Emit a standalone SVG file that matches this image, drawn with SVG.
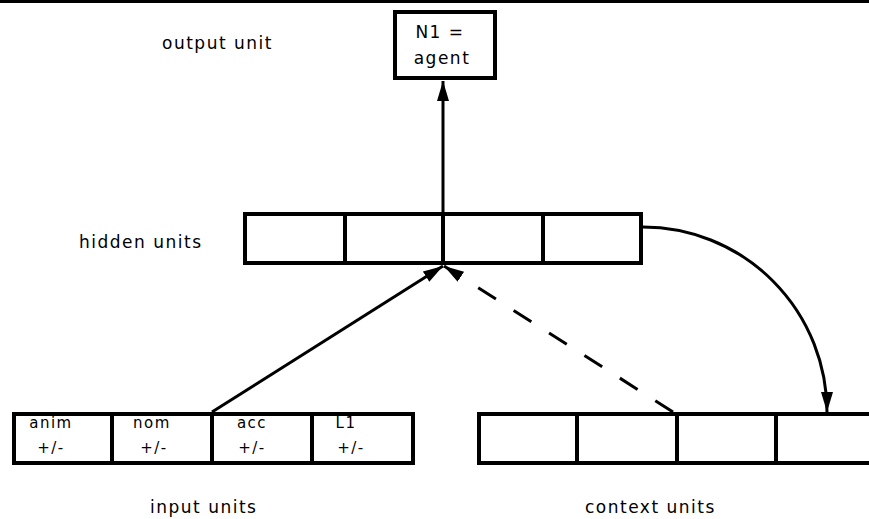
<svg xmlns="http://www.w3.org/2000/svg" width="869" height="519" viewBox="0 0 869 519">
<style>
.box{fill:#fff;stroke:#000;stroke-width:4}
.div{stroke:#000;stroke-width:4}
.lbl{font-family:"DejaVu Sans",sans-serif;font-size:17px;fill:#000;letter-spacing:1.5px}
.cell{font-family:"DejaVu Sans",sans-serif;font-size:15px;fill:#000;letter-spacing:1.5px;text-anchor:middle}
.con{fill:none;stroke:#000;stroke-width:3}
</style>
<defs>
<marker id="ah" markerUnits="userSpaceOnUse" markerWidth="22" markerHeight="14" refX="20" refY="6" orient="auto">
<path d="M0,0 L20,6 L0,12 z" fill="#000"/>
</marker>
</defs>
<rect x="0" y="0" width="869" height="3" fill="#000"/>
<text class="lbl" x="162" y="49">output unit</text>
<text class="lbl" x="79" y="248">hidden units</text>
<text class="lbl" x="150" y="513">input units</text>
<text class="lbl" x="585" y="513">context units</text>
<g id="output">
<rect class="box" x="395" y="12" width="100" height="66"/>
<text class="cell" x="440" y="38" style="font-size:17px">N1 =</text>
<text class="cell" x="442" y="64" style="font-size:17px">agent</text>
</g>
<g id="hidden">
<rect class="box" x="245" y="214" width="396" height="49"/>
<line class="div" x1="345" y1="214" x2="345" y2="263"/>
<line class="div" x1="443" y1="214" x2="443" y2="263"/>
<line class="div" x1="543" y1="214" x2="543" y2="263"/>
</g>
<g id="input">
<rect class="box" x="14" y="414" width="399" height="49"/>
<line class="div" x1="112" y1="414" x2="112" y2="463"/>
<line class="div" x1="212" y1="414" x2="212" y2="463"/>
<line class="div" x1="312" y1="414" x2="312" y2="463"/>
<text class="cell" x="51" y="428">anim</text>
<text class="cell" x="51" y="453">+/-</text>
<text class="cell" x="152" y="428">nom</text>
<text class="cell" x="154" y="453">+/-</text>
<text class="cell" x="252" y="428">acc</text>
<text class="cell" x="252" y="453">+/-</text>
<text class="cell" x="346" y="428">L1</text>
<text class="cell" x="351" y="453">+/-</text>
</g>
<g id="context">
<rect class="box" x="479" y="414" width="420" height="49"/>
<line class="div" x1="577" y1="414" x2="577" y2="463"/>
<line class="div" x1="677" y1="414" x2="677" y2="463"/>
<line class="div" x1="776" y1="414" x2="776" y2="463"/>
</g>
<g id="connectors">
<path class="con" d="M443,212 L443,81" marker-end="url(#ah)"/>
<path class="con" d="M212,412 L443,266" marker-end="url(#ah)"/>
<path class="con" d="M673,412 L444,266" stroke-dasharray="21 21" marker-end="url(#ah)"/>
<path class="con" d="M643,227 A184,185 0 0 1 827,412" marker-end="url(#ah)"/>
</g>
</svg>
